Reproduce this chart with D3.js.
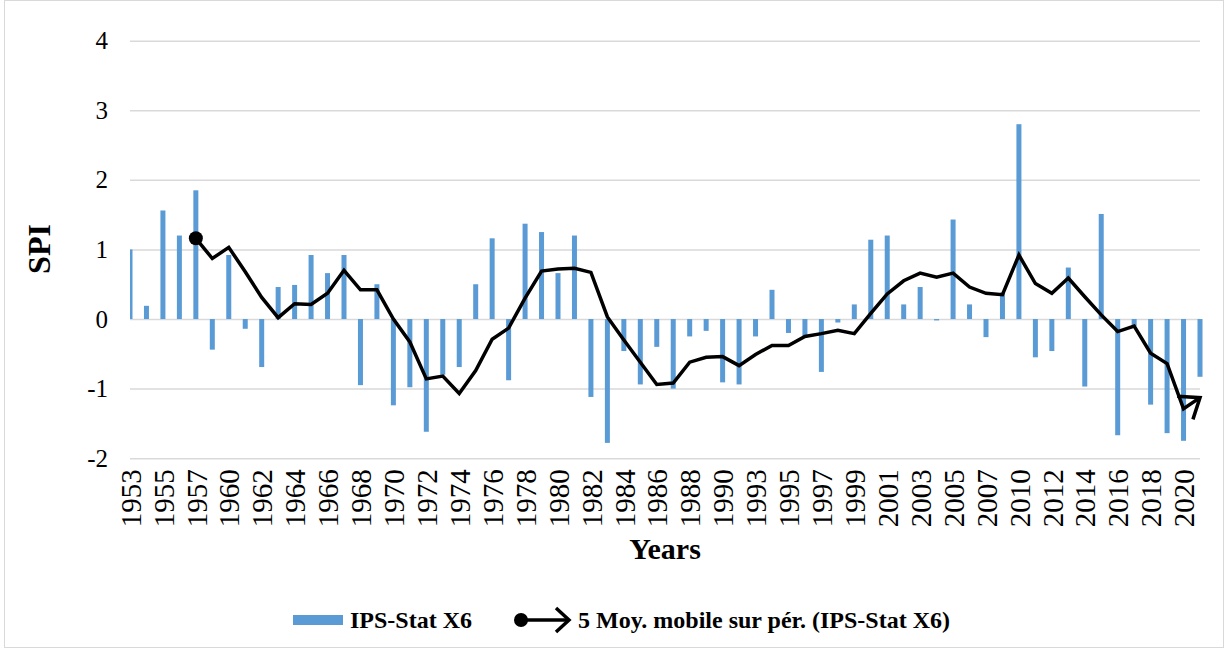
<!DOCTYPE html>
<html>
<head>
<meta charset="utf-8">
<script src="https://cdn.jsdelivr.net/npm/d3@7"></script>
<style>
  body { margin: 0; background: #fff; }
  svg { display: block; font-family: "Liberation Serif", "Times New Roman", serif; }
</style>
</head>
<body>
<svg id="chart" width="1228" height="651"></svg>
<script>
// years on the category axis (three years are absent from the series)
var years = [1953, 1954, 1955, 1956, 1957, 1958, 1960, 1961, 1962, 1963,
  1964, 1965, 1966, 1967, 1968, 1969, 1970, 1971, 1972, 1973,
  1974, 1975, 1976, 1977, 1978, 1979, 1980, 1981, 1982, 1983,
  1984, 1985, 1986, 1987, 1988, 1989, 1990, 1991, 1993, 1994,
  1995, 1996, 1997, 1998, 1999, 2000, 2001, 2002, 2003, 2004,
  2005, 2006, 2007, 2008, 2010, 2011, 2012, 2013, 2014, 2015,
  2016, 2017, 2018, 2019, 2020, 2021];

// IPS-Stat X6 (bars)
var spi = [1.00, 0.19, 1.56, 1.20, 1.85, -0.44, 0.92, -0.14, -0.69, 0.46,
  0.49, 0.92, 0.66, 0.92, -0.95, 0.50, -1.24, -0.98, -1.62, -0.80,
  -0.69, 0.50, 1.16, -0.88, 1.37, 1.25, 0.66, 1.20, -1.12, -1.78,
  -0.46, -0.94, -0.40, -1.00, -0.25, -0.17, -0.91, -0.94, -0.25, 0.42,
  -0.20, -0.25, -0.76, -0.05, 0.21, 1.14, 1.20, 0.21, 0.46, -0.02,
  1.43, 0.21, -0.26, 0.38, 2.80, -0.55, -0.46, 0.74, -0.97, 1.51,
  -1.67, -0.10, -1.23, -1.64, -1.75, -0.83];

// 5-period moving average (starts at 1957)
var movingAvg = [null, null, null, null, 1.16, 0.87, 1.03, 0.68, 0.31, 0.02,
  0.22, 0.21, 0.37, 0.70, 0.42, 0.42, 0.00, -0.33, -0.86, -0.82,
  -1.07, -0.74, -0.29, -0.13, 0.30, 0.69, 0.72, 0.73, 0.67, 0.03,
  -0.30, -0.62, -0.94, -0.92, -0.62, -0.55, -0.54, -0.67, -0.51, -0.38,
  -0.38, -0.25, -0.21, -0.16, -0.21, 0.08, 0.36, 0.55, 0.66, 0.60,
  0.66, 0.46, 0.37, 0.35, 0.92, 0.51, 0.37, 0.59, 0.32, 0.06,
  -0.18, -0.10, -0.49, -0.64, -1.29, -1.13];

var yTicks = [-2, -1, 0, 1, 2, 3, 4];
var barLabel = "IPS-Stat X6";
var lineLabel = "5 Moy. mobile sur pér. (IPS-Stat X6)";

var H = 651;
var plotLeft = 130, plotRight = 1200, plotTop = 40.7, plotBottom = 458.2;

var svg = d3.select("#chart");

// chart area border
svg.append("rect")
    .attr("x", 4.5).attr("y", 0.5)
    .attr("width", 1219).attr("height", 647)
    .attr("fill", "#fff")
    .attr("stroke", "#d9d9d9");

var x = d3.scalePoint()
    .domain(years)
    .range([plotLeft, plotRight]);

var y = d3.scaleLinear()
    .domain([-2, 4])
    .range([plotBottom, plotTop]);

// gridlines
svg.append("g")
    .attr("transform", "translate(" + plotLeft + ",0)")
    .call(d3.axisLeft(y).tickValues(yTicks).tickSize(-(plotRight - plotLeft)).tickFormat(""))
    .call(function(g) { g.select(".domain").remove(); })
    .selectAll("line")
    .attr("stroke", "#d9d9d9")
    .attr("stroke-width", 1.5);

// y labels (plain hyphen for negatives, as in the original)
svg.append("g")
    .attr("transform", "translate(108,0)")
    .call(d3.axisLeft(y).tickValues(yTicks).tickSize(0).tickPadding(0)
      .tickFormat(function(d) { return String(d); }))
    .call(function(g) { g.select(".domain").remove(); })
    .selectAll("text")
    .attr("font-family", "Liberation Serif")
    .attr("font-size", "25px")
    .attr("fill", "#000");

var defs = svg.append("defs");
defs.append("clipPath")
    .attr("id", "plot-clip")
  .append("rect")
    .attr("x", plotLeft).attr("y", 0)
    .attr("width", plotRight - plotLeft + 6).attr("height", H);

// bars
var barW = 5;
svg.append("g")
    .attr("clip-path", "url(#plot-clip)")
  .selectAll("rect")
    .data(spi)
  .enter().append("rect")
    .attr("x", function(d, i) { return x(years[i]) - barW / 2; })
    .attr("y", function(d) { return y(Math.max(0, d)); })
    .attr("width", barW)
    .attr("height", function(d) { return Math.abs(y(d) - y(0)); })
    .attr("fill", "#5b9bd5");

// x labels, every second category
svg.append("g")
    .attr("transform", "translate(0," + plotBottom + ")")
    .call(d3.axisBottom(x).tickValues(years.filter(function(d, i) { return i % 2 === 0; })).tickSize(0))
    .call(function(g) { g.select(".domain").remove(); })
    .selectAll("text")
    .attr("font-family", "Liberation Serif")
    .attr("font-size", "29px")
    .attr("fill", "#000")
    .attr("text-anchor", "end")
    .attr("transform", "rotate(-90)")
    .attr("x", -11)
    .attr("y", 0)
    .attr("dy", "0.35em");

// open arrowhead marker
defs.append("marker")
    .attr("id", "arrow")
    .attr("markerUnits", "userSpaceOnUse")
    .attr("viewBox", "-22 -17 26 34")
    .attr("refX", 0).attr("refY", 0)
    .attr("markerWidth", 26).attr("markerHeight", 34)
    .attr("orient", "auto")
  .append("path")
    .attr("d", "M-18,-14L0,0L-18,14")
    .attr("fill", "none")
    .attr("stroke", "#000")
    .attr("stroke-width", 3.5);

defs.append("marker")
    .attr("id", "arrow-small")
    .attr("markerUnits", "userSpaceOnUse")
    .attr("viewBox", "-18 -14 22 28")
    .attr("refX", 0).attr("refY", 0)
    .attr("markerWidth", 22).attr("markerHeight", 28)
    .attr("orient", "auto")
  .append("path")
    .attr("d", "M-13,-12L0,0L-13,12")
    .attr("fill", "none")
    .attr("stroke", "#000")
    .attr("stroke-width", 3.5);

// moving average line
var line = d3.line()
    .defined(function(d) { return d != null; })
    .x(function(d, i) { return x(years[i]); })
    .y(function(d) { return y(d); });

svg.append("path")
    .datum(movingAvg)
    .attr("d", line)
    .attr("fill", "none")
    .attr("stroke", "#000")
    .attr("stroke-width", 3.5)
    .attr("marker-end", "url(#arrow)");

var first = movingAvg.findIndex(function(d) { return d != null; });
svg.append("circle")
    .attr("cx", x(years[first]))
    .attr("cy", y(movingAvg[first]))
    .attr("r", 7)
    .attr("fill", "#000");

// axis titles
svg.append("text")
    .attr("transform", "translate(50,249) rotate(-90)")
    .attr("text-anchor", "middle")
    .attr("font-size", "32px")
    .attr("font-weight", "bold")
    .text("SPI");

svg.append("text")
    .attr("x", 665)
    .attr("y", 559)
    .attr("text-anchor", "middle")
    .attr("font-size", "30px")
    .attr("font-weight", "bold")
    .text("Years");

// legend
var legend = svg.append("g")
    .attr("font-size", "24px")
    .attr("font-weight", "bold");

legend.append("rect")
    .attr("x", 293).attr("y", 615)
    .attr("width", 50).attr("height", 10)
    .attr("fill", "#5b9bd5");

legend.append("text")
    .attr("x", 350).attr("y", 628)
    .text(barLabel);

legend.append("line")
    .attr("x1", 521).attr("y1", 620)
    .attr("x2", 569).attr("y2", 620)
    .attr("stroke", "#000")
    .attr("stroke-width", 3.5)
    .attr("marker-end", "url(#arrow-small)");

legend.append("circle")
    .attr("cx", 521).attr("cy", 620)
    .attr("r", 7)
    .attr("fill", "#000");

legend.append("text")
    .attr("x", 578).attr("y", 628)
    .text(lineLabel);
</script>
</body>
</html>
